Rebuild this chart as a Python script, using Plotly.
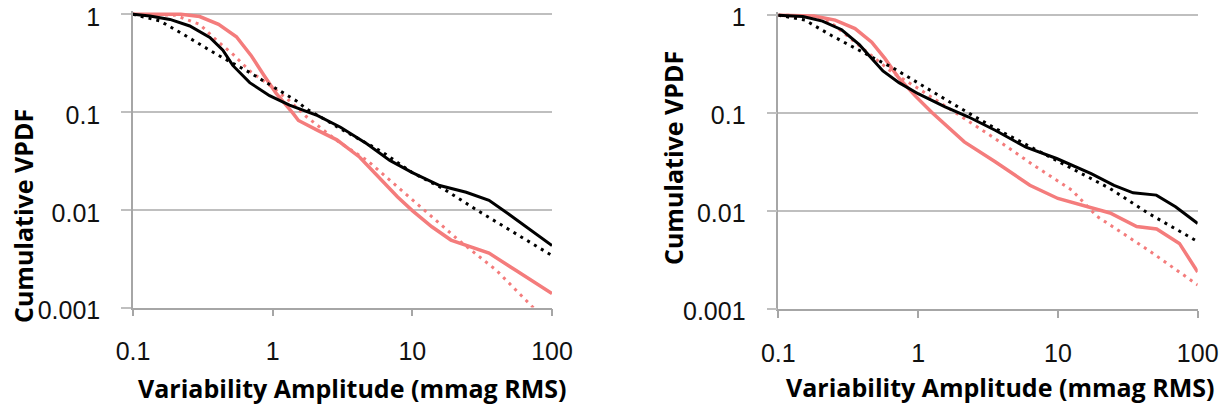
import plotly.graph_objects as go

# ---------------- data ----------------
x_ticks = [0.1, 1, 10, 100]
x_tick_labels = ["0.1", "1", "10", "100"]
y_ticks = [1, 0.1, 0.01, 0.001]
y_tick_labels = ["1", "0.1", "0.01", "0.001"]

x_title = "Variability Amplitude (mmag RMS)"
y_title = "Cumulative VPDF"

# Left panel
left_black_solid_x = [0.1, 0.132, 0.184, 0.255, 0.355, 0.44, 0.518, 0.685, 0.95, 1.32, 2.1, 3.06, 4.75, 6.9, 10, 15.7, 24.3, 35.4, 48.6, 70.7, 100]
left_black_solid_y = [1, 0.96, 0.887, 0.76, 0.58, 0.43, 0.30, 0.20, 0.147, 0.118, 0.092, 0.07, 0.047, 0.032, 0.024, 0.0177, 0.0151, 0.0125, 0.0091, 0.0061, 0.0043]

left_black_dot_x = [0.1, 0.156, 0.229, 0.396, 0.685, 0.9, 1.48, 1.74, 3.27, 6.1, 10, 16.7, 29.4, 55, 100]
left_black_dot_y = [1, 0.855, 0.625, 0.39, 0.254, 0.2, 0.13, 0.108, 0.064, 0.039, 0.024, 0.0164, 0.0098, 0.0057, 0.0034]

left_red_solid_x = [0.1, 0.22, 0.30, 0.41, 0.55, 0.70, 0.87, 1.06, 1.40, 1.53, 2.1, 2.88, 4.2, 6.1, 7.85, 10, 13.8, 18.9, 25.9, 35.4, 55, 100]
left_red_solid_y = [1, 1, 0.95, 0.79, 0.59, 0.38, 0.235, 0.155, 0.097, 0.082, 0.065, 0.052, 0.0345, 0.02, 0.0135, 0.0098, 0.0067, 0.0049, 0.0042, 0.0036, 0.0024, 0.00139]

left_red_dot_x = [0.1, 0.2, 0.30, 0.40, 0.52, 0.685, 1.0, 1.32, 1.74, 2.88, 4.75, 7.85, 13, 21.4, 40, 72.4, 80]
left_red_dot_y = [1, 0.98, 0.79, 0.535, 0.39, 0.264, 0.178, 0.13, 0.09, 0.051, 0.032, 0.017, 0.0091, 0.0049, 0.0024, 0.00102, 0.00088]

# Right panel
right_black_solid_x = [0.1, 0.15, 0.207, 0.284, 0.38, 0.47, 0.56, 0.73, 1.0, 1.56, 2.28, 3.56, 5.9, 9.8, 17.3, 25.2, 34.5, 50.6, 69.4, 100]
right_black_solid_y = [1, 0.97, 0.87, 0.71, 0.50, 0.36, 0.27, 0.205, 0.158, 0.116, 0.092, 0.067, 0.045, 0.0345, 0.0242, 0.0184, 0.0154, 0.0146, 0.0111, 0.0075]

right_black_dot_x = [0.1, 0.155, 0.24, 0.373, 0.49, 0.647, 0.85, 1.12, 1.47, 1.89, 3.56, 6.7, 12.6, 23.7, 44.5, 100]
right_black_dot_y = [1, 0.89, 0.62, 0.44, 0.36, 0.295, 0.233, 0.184, 0.148, 0.118, 0.07, 0.0435, 0.0272, 0.017, 0.0095, 0.0049]

right_red_solid_x = [0.1, 0.18, 0.255, 0.354, 0.466, 0.58, 0.72, 0.95, 1.25, 1.56, 2.14, 3.56, 6.3, 10, 14.4, 23.6, 36.6, 50.9, 74, 100]
right_red_solid_y = [1, 0.98, 0.89, 0.73, 0.53, 0.36, 0.233, 0.151, 0.102, 0.077, 0.051, 0.032, 0.0184, 0.0135, 0.0117, 0.0096, 0.007, 0.0066, 0.0047, 0.0024]

right_red_dot_x = [0.1, 0.15, 0.234, 0.389, 0.646, 1.0, 1.89, 3.56, 6.7, 12.6, 19, 45.6, 100]
right_red_dot_y = [1, 0.99, 0.855, 0.475, 0.264, 0.179, 0.1, 0.055, 0.0295, 0.0164, 0.0089, 0.0039, 0.00177]

# ---------------- style ----------------
BLACK = "#000000"
RED = "#F47C7C"
GRID = "#BFBFBF"
AXIS = "#A6A6A6"
TICK_FONT = dict(family="Liberation Sans", size=25, color="#111111")
TITLE_FONT = dict(family="Open Sans", size=25, color="#000000")

fig = go.Figure()


def add(x, y, color, dash, width, xa, ya):
    fig.add_trace(go.Scatter(x=x, y=y, mode="lines", xaxis=xa, yaxis=ya,
                             line=dict(color=color, width=width, dash=dash),
                             showlegend=False, hoverinfo="skip"))


DOT = "3px,5px"
add(left_red_dot_x, left_red_dot_y, RED, DOT, 3, "x", "y")
add(left_red_solid_x, left_red_solid_y, RED, "solid", 3.5, "x", "y")
add(left_black_dot_x, left_black_dot_y, BLACK, DOT, 3, "x", "y")
add(left_black_solid_x, left_black_solid_y, BLACK, "solid", 3, "x", "y")

add(right_red_dot_x, right_red_dot_y, RED, DOT, 3, "x2", "y2")
add(right_red_solid_x, right_red_solid_y, RED, "solid", 3.5, "x2", "y2")
add(right_black_dot_x, right_black_dot_y, BLACK, DOT, 3, "x2", "y2")
add(right_black_solid_x, right_black_solid_y, BLACK, "solid", 3, "x2", "y2")

W, H = 1232, 411


def fx(px):
    return px / W


def fy(py):
    return (H - py) / H


def xaxis(domain, anchor):
    return dict(type="log", range=[-1, 2], domain=domain, anchor=anchor, automargin=False,
                tickvals=x_ticks, ticktext=x_tick_labels, tickfont=TICK_FONT,
                showgrid=False, zeroline=False, showline=True, linecolor=AXIS, linewidth=1.5,
                ticks="outside", ticklen=7, tickwidth=1.5, tickcolor=AXIS,
                ticklabelstandoff=14, ticklabeloverflow="allow")


def yaxis(domain, anchor, shift):
    return dict(type="log", range=[-3, 0.03], domain=domain, anchor=anchor, automargin=False,
                tickvals=y_ticks, ticktext=y_tick_labels, tickfont=TICK_FONT,
                showgrid=True, gridcolor=GRID, gridwidth=1.5, zeroline=False,
                showline=True, linecolor=AXIS, linewidth=1.5,
                ticks="outside", ticklen=10, tickwidth=1.5, tickcolor=GRID,
                ticklabelstandoff=16, ticklabelshift=shift, ticklabeloverflow="allow")


fig.update_layout(
    width=W, height=H,
    margin=dict(l=0, r=0, t=0, b=0, pad=0),
    paper_bgcolor="white", plot_bgcolor="white",
    xaxis=xaxis([fx(133), fx(552)], "y"),
    yaxis=yaxis([fy(307.5), fy(11.4)], "x", 3),
    xaxis2=xaxis([fx(778.3), fx(1197.7)], "y2"),
    yaxis2=yaxis([fy(309.3), fy(12.2)], "x2", 2),
    annotations=[
        dict(text="<b>%s</b>" % x_title, xref="paper", yref="paper", x=fx(352), y=fy(388),
             xanchor="center", yanchor="middle", showarrow=False, font=TITLE_FONT),
        dict(text="<b>%s</b>" % x_title, xref="paper", yref="paper", x=fx(1000), y=fy(387),
             xanchor="center", yanchor="middle", showarrow=False, font=TITLE_FONT),
        dict(text="<b>%s</b>" % y_title, xref="paper", yref="paper", x=fx(23), y=fy(216),
             xanchor="center", yanchor="middle", showarrow=False, textangle=-90, font=TITLE_FONT),
        dict(text="<b>%s</b>" % y_title, xref="paper", yref="paper", x=fx(673), y=fy(158),
             xanchor="center", yanchor="middle", showarrow=False, textangle=-90, font=TITLE_FONT),
    ],
)

fig.write_html("out.html", config={"displayModeBar": False},
               post_script="document.body.style.margin='0px';")
